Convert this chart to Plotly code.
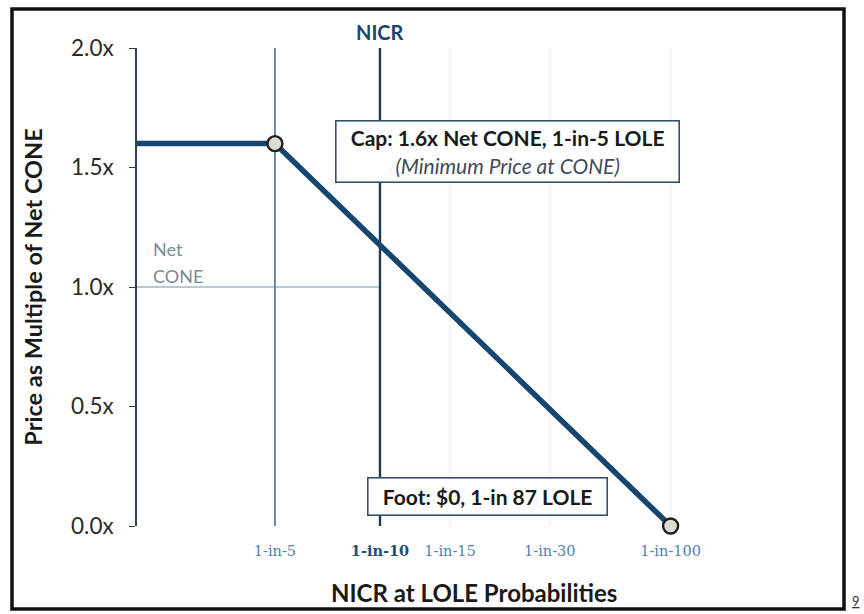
import plotly.graph_objects as go

# LOLE reference points along the capacity axis (position as % of NICR)
tick_labels = ["1-in-5", "1-in-10", "1-in-15", "1-in-30", "1-in-100"]
tick_pos = [97.0, 100.0, 102.0, 104.85, 108.3]

# Demand curve: flat cap at 1.6x Net CONE up to 1-in-5, falling to $0 at the foot
curve_x = [93.06, 97.0, 108.3]
curve_y = [1.6, 1.6, 0.0]
cap_point = (97.0, 1.6)
foot_point = (108.3, 0.0)

net_cone = 1.0
nicr_x = 100.0
y_ticks = [0.0, 0.5, 1.0, 1.5, 2.0]
y_tick_text = ["0.0x", "0.5x", "1.0x", "1.5x", "2.0x"]

X_RANGE = [93.06, 109.14]
Y_RANGE = [0.0, 2.0]

FONT = "Lato"
NAVY = "#16466F"

# plot-area geometry in pixels
L, T, W, H = 137, 48, 563, 478
FIG_W, FIG_H = 864, 614

fig = go.Figure()

# faint guides at the higher-LOLE ticks
for xv in tick_pos[2:]:
    fig.add_trace(go.Scatter(x=[xv, xv], y=Y_RANGE, mode="lines",
                             line=dict(color="#F1F3F6", width=1.5),
                             hoverinfo="skip", showlegend=False))

# Net CONE reference line
fig.add_trace(go.Scatter(x=[X_RANGE[0], nicr_x], y=[net_cone, net_cone], mode="lines",
                         line=dict(color="#9FB6CC", width=1.5),
                         hoverinfo="skip", showlegend=False))

# 1-in-5 vertical
fig.add_trace(go.Scatter(x=[tick_pos[0], tick_pos[0]], y=Y_RANGE, mode="lines",
                         line=dict(color="#5A7EA2", width=1.8),
                         hoverinfo="skip", showlegend=False))

# NICR vertical
fig.add_trace(go.Scatter(x=[nicr_x, nicr_x], y=Y_RANGE, mode="lines",
                         line=dict(color="#173B60", width=2.4),
                         hoverinfo="skip", showlegend=False))

# demand curve
fig.add_trace(go.Scatter(x=curve_x, y=curve_y, mode="lines", cliponaxis=False,
                         line=dict(color=NAVY, width=5.5),
                         hoverinfo="skip", showlegend=False))

# cap and foot markers
fig.add_trace(go.Scatter(x=[cap_point[0], foot_point[0]], y=[cap_point[1], foot_point[1]],
                         mode="markers", cliponaxis=False,
                         marker=dict(size=15, color="#D9DED3",
                                     line=dict(color="#1E1E1E", width=2.4)),
                         hoverinfo="skip", showlegend=False))

tick_text = []
for lbl in tick_labels:
    if lbl == "1-in-10":
        tick_text.append("<b><span style='color:#1F4E79'>" + lbl + "</span></b>")
    else:
        tick_text.append(lbl)

fig.update_layout(
    width=FIG_W, height=FIG_H,
    margin=dict(l=L, r=FIG_W - L - W, t=T, b=FIG_H - T - H),
    paper_bgcolor="white", plot_bgcolor="white",
    font=dict(family=FONT, color="#222"),
    xaxis=dict(range=X_RANGE, showgrid=False, zeroline=False, showline=False,
               tickmode="array", tickvals=tick_pos, ticktext=tick_text,
               ticks="", ticklabelstandoff=14,
               tickfont=dict(family="DejaVu Serif", size=14.5, color="#4F80B0"),
               automargin=False),
    yaxis=dict(range=Y_RANGE, showgrid=False, zeroline=False,
               showline=True, linecolor="#2C3E55", linewidth=1.6,
               tickmode="array", tickvals=y_ticks, ticktext=y_tick_text,
               ticks="outside", ticklen=6, tickcolor="#2C3E55", tickwidth=1.4,
               ticklabelstandoff=11,
               tickfont=dict(family=FONT, size=22.5, color="#2A2A2A"),
               title=dict(text="<b>Price as Multiple of Net CONE</b>", standoff=22,
                          font=dict(family=FONT, size=23.5, color="#1A1A1A")),
               automargin=False),
)

def px_to_paper(px, py):
    return (px - L) / float(W), (T + H - py) / float(H)

# x-axis title, centred under the chart body
ax, ay = px_to_paper(474, 592)
fig.add_annotation(x=ax, y=ay, xref="paper", yref="paper", xanchor="center", yanchor="middle",
                   text="<b>NICR at LOLE Probabilities</b>", showarrow=False,
                   font=dict(family=FONT, size=24, color="#1A1A1A"))

# outer frame
fx0, fy1 = px_to_paper(12, 9)
fx1, fy0 = px_to_paper(844, 609)
fig.add_shape(type="rect", xref="paper", yref="paper", x0=fx0, x1=fx1, y0=fy0, y1=fy1,
              line=dict(color="#111111", width=3.5), fillcolor="rgba(0,0,0,0)", layer="above")

# NICR label
fig.add_annotation(x=nicr_x, xref="x", y=1.0, yref="paper", yshift=2, yanchor="bottom",
                   text="<b>NICR</b>", showarrow=False,
                   font=dict(family=FONT, size=20, color="#1F446B"))

# Net CONE label
ax, ay = px_to_paper(151, 249)
fig.add_annotation(x=ax, y=ay, xref="paper", yref="paper", xanchor="left", yanchor="middle",
                   text="Net", showarrow=False, font=dict(family=FONT, size=18, color="#7D8995"))
ax, ay = px_to_paper(151, 276)
fig.add_annotation(x=ax, y=ay, xref="paper", yref="paper", xanchor="left", yanchor="middle",
                   text="CONE", showarrow=False, font=dict(family=FONT, size=18, color="#7D8995"))

# Cap callout
ax, ay = px_to_paper(507, 151)
fig.add_annotation(x=ax, y=ay, xref="paper", yref="paper", xanchor="center", yanchor="middle",
                   text="<b>Cap: 1.6x Net CONE, 1-in-5 LOLE</b><br>"
                        "<i><span style='color:#3F4A5A'>(Minimum Price at CONE)</span></i>",
                   showarrow=False, align="center",
                   font=dict(family=FONT, size=21, color="#1A1A1A"),
                   bgcolor="white", bordercolor="#34506F", borderwidth=1.6, borderpad=4,
                   width=334, height=52)

# Foot callout
ax, ay = px_to_paper(487, 496)
fig.add_annotation(x=ax, y=ay, xref="paper", yref="paper", xanchor="center", yanchor="middle",
                   text="<b>Foot: $0, 1-in 87 LOLE</b>", showarrow=False,
                   font=dict(family=FONT, size=21, color="#1A1A1A"),
                   bgcolor="white", bordercolor="#34506F", borderwidth=1.6, borderpad=4,
                   width=230, height=28)

# slide page number
ax, ay = px_to_paper(850, 601)
fig.add_annotation(x=ax, y=ay, xref="paper", yref="paper", xanchor="left", yanchor="middle",
                   text="<u>9</u>", showarrow=False, font=dict(family=FONT, size=13, color="#333"))

fig.write_html("out.html")
